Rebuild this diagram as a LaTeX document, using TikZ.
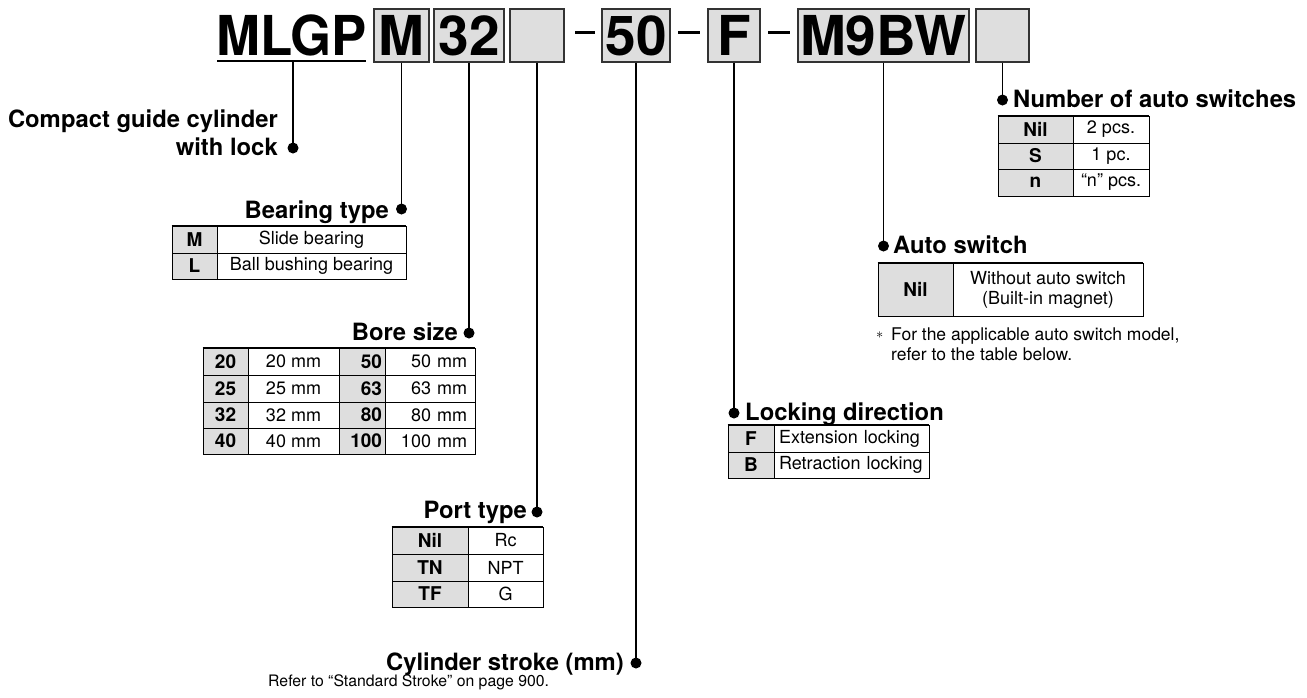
\documentclass[tikz,border=0pt]{standalone}
\usepackage{fontspec}
\setmainfont{TeX Gyre Heros}
\usepackage{graphicx}
\newcommand\mkcell[7]{\node[#1, minimum width={#5pt-#3pt}, minimum height={#6pt-#4pt}] (#2) at ({(#3+#5)/2},{(#4+#6)/2}) {#7};}
\tikzset{
  hbox/.style={draw=black!80, line width=1.4pt, fill=black!13, inner sep=0pt, font=\fontsize{55}{55}\selectfont\bfseries},
  lead/.style={line width=1.8pt},
  dotn/.style={circle, fill=black, inner sep=0pt, minimum size=11pt},
  lab/.style={font=\fontsize{23.8}{26}\selectfont\bfseries, inner sep=0pt},
  small/.style={font=\fontsize{17.5}{20}\selectfont, inner sep=0pt},
  kc/.style={draw=black, line width=0.8pt, fill=black!13, inner sep=0pt, font=\fontsize{19}{20}\selectfont\bfseries},
  vc/.style={draw=black, line width=0.8pt, fill=white, inner sep=0pt, font=\fontsize{18}{20}\selectfont, align=center},
  kcr/.style={kc, inner xsep=3pt, text width=40pt, align=right},
  vcr/.style={vc, inner xsep=8pt, text width=74pt, align=right},
  vcl/.style={vc, inner xsep=5pt, text width=145pt, align=left},
  topline/.style={line width=2pt},
}
\begin{document}
\begin{tikzpicture}[x=1pt,y=-1pt]
\useasboundingbox[fill=white] (0,0) rectangle (1307,697);
% ---------- header ----------
\node[anchor=base west, inner sep=0pt, font=\fontsize{55}{55}\selectfont\bfseries] (mlgp) at (216,55) {\scalebox{0.96}[1]{MLGP}};
\draw[line width=2pt] (217,61) -- (366,61);
\mkcell{hbox}{hM}{374}{9}{429}{62}{M}
\mkcell{hbox}{h32}{434}{9}{504}{62}{32}
\mkcell{hbox}{hE1}{510}{9}{564}{62}{}
\mkcell{hbox}{h50}{602}{9}{670}{62}{50}
\mkcell{hbox}{hF}{708}{9}{760}{62}{F}
\mkcell{hbox}{hM9}{798}{9}{969}{62}{M9BW}
\mkcell{hbox}{hE2}{976}{9}{1029}{62}{}
\fill (575,30.5) rectangle (595,33.5);
\fill (678,30.5) rectangle (700,33.5);
\fill (768,30.5) rectangle (790,33.5);
% ---------- leaders ----------
\coordinate (t0) at (293,61);
\node[dotn] (d0) at (293,148) {};
\node[dotn] (d1) at (401.5,209) {};
\node[dotn] (d2) at (469,333) {};
\node[dotn] (d3) at (537,512) {};
\node[dotn] (d4) at (636,663) {};
\node[dotn] (d5) at (734,413) {};
\node[dotn] (d6) at (883.5,246) {};
\node[dotn] (d7) at (1002.5,100) {};
\draw[lead] (t0) -- (d0.center);
\draw[lead] (hM.south) -- (d1.center);
\draw[lead] (h32.south) -- (d2.center);
\draw[lead] (hE1.south) -- (d3.center);
\draw[lead] (h50.south) -- (d4.center);
\draw[lead] (hF.south) -- (d5.center);
\draw[lead] (hM9.south) -- (d6.center);
\draw[lead] (hE2.south) -- (d7.center);
% ---------- labels ----------
\node[lab, anchor=base east] (l0a) at (278,127) {Compact guide cylinder};
\node[lab, anchor=base east] (l0b) at (278,155) {with lock};
\node[lab, anchor=base east] (l1) at (389,218) {Bearing type};
\node[lab, anchor=base east] (l2) at (458,340) {Bore size};
\node[lab, anchor=base east] (l3) at (527,518) {Port type};
\node[lab, anchor=base east] (l4) at (624,670) {Cylinder stroke (mm)};
\node[anchor=base west, inner sep=0pt, font=\fontsize{15.8}{18}\selectfont] (l4b) at (268,686) {Refer to “Standard Stroke” on page 900.};
\node[lab, anchor=base west] (l5) at (745,420) {Locking direction};
\node[lab, anchor=base west] (l6) at (893,253) {Auto switch};
\node[lab, anchor=base west] (l7) at (1013,107) {Number of auto switches};
% ---------- bearing type ----------
\mkcell{kc}{bk1}{172}{226}{217}{253}{M}
\mkcell{vc}{bv1}{217}{226}{406}{253}{Slide bearing}
\mkcell{kc}{bk2}{172}{253}{217}{279}{L}
\mkcell{vc}{bv2}{217}{253}{406}{279}{Ball bushing bearing}
\draw[topline] (bk1.north west) -- (bv1.north east);
% ---------- bore size ----------
\mkcell{kc}{rk11}{203}{348}{248}{375}{20}
\mkcell{vc}{rv11}{248}{348}{339}{375}{20 mm}
\mkcell{kcr}{rk12}{339}{348}{385}{375}{50}
\mkcell{vcr}{rv12}{385}{348}{475}{375}{50 mm}
\mkcell{kc}{rk21}{203}{375}{248}{402}{25}
\mkcell{vc}{rv21}{248}{375}{339}{402}{25 mm}
\mkcell{kcr}{rk22}{339}{375}{385}{402}{63}
\mkcell{vcr}{rv22}{385}{375}{475}{402}{63 mm}
\mkcell{kc}{rk31}{203}{402}{248}{428}{32}
\mkcell{vc}{rv31}{248}{402}{339}{428}{32 mm}
\mkcell{kcr}{rk32}{339}{402}{385}{428}{80}
\mkcell{vcr}{rv32}{385}{402}{475}{428}{80 mm}
\mkcell{kc}{rk41}{203}{428}{248}{454}{40}
\mkcell{vc}{rv41}{248}{428}{339}{454}{40 mm}
\mkcell{kcr}{rk42}{339}{428}{385}{454}{100}
\mkcell{vcr}{rv42}{385}{428}{475}{454}{100 mm}
\draw[topline] (rk11.north west) -- (rv12.north east);
% ---------- port type ----------
\mkcell{kc}{pk1}{392}{527}{468}{554}{Nil}
\mkcell{vc}{pv1}{468}{527}{543}{554}{Rc}
\mkcell{kc}{pk2}{392}{554}{468}{581}{TN}
\mkcell{vc}{pv2}{468}{554}{543}{581}{NPT}
\mkcell{kc}{pk3}{392}{581}{468}{607}{TF}
\mkcell{vc}{pv3}{468}{581}{543}{607}{G}
\draw[topline] (pk1.north west) -- (pv1.north east);
% ---------- locking direction ----------
\mkcell{kc}{lk1}{728}{425}{774}{452}{F}
\mkcell{vcl}{lv1}{774}{425}{929}{452}{Extension locking}
\mkcell{kc}{lk2}{728}{452}{774}{478}{B}
\mkcell{vcl}{lv2}{774}{452}{929}{478}{Retraction locking}
\draw[topline] (lk1.north west) -- (lv1.north east);
% ---------- auto switch ----------
\mkcell{kc}{ak1}{878}{263}{953}{316}{Nil}
\mkcell{vc}{av1}{953}{263}{1143}{316}{Without auto switch\\(Built-in magnet)}
\draw[topline] (ak1.north west) -- (av1.north east);
\node[anchor=base west, inner sep=0pt, font=\fontsize{14}{16}\selectfont] (ast) at (876,338) {$\ast$};
\node[small, anchor=base west] (n1) at (891,340) {For the applicable auto switch model,};
\node[small, anchor=base west] (n2) at (891,360) {refer to the table below.};
% ---------- number of auto switches ----------
\mkcell{kc}{nk1}{998}{116}{1073}{143}{Nil}
\mkcell{vc}{nv1}{1073}{116}{1149}{143}{2 pcs.}
\mkcell{kc}{nk2}{998}{143}{1073}{169}{S}
\mkcell{vc}{nv2}{1073}{143}{1149}{169}{1 pc.}
\mkcell{kc}{nk3}{998}{169}{1073}{196}{n}
\mkcell{vc}{nv3}{1073}{169}{1149}{196}{“n” pcs.}
\draw[topline] (nk1.north west) -- (nv1.north east);
\end{tikzpicture}
\end{document}
